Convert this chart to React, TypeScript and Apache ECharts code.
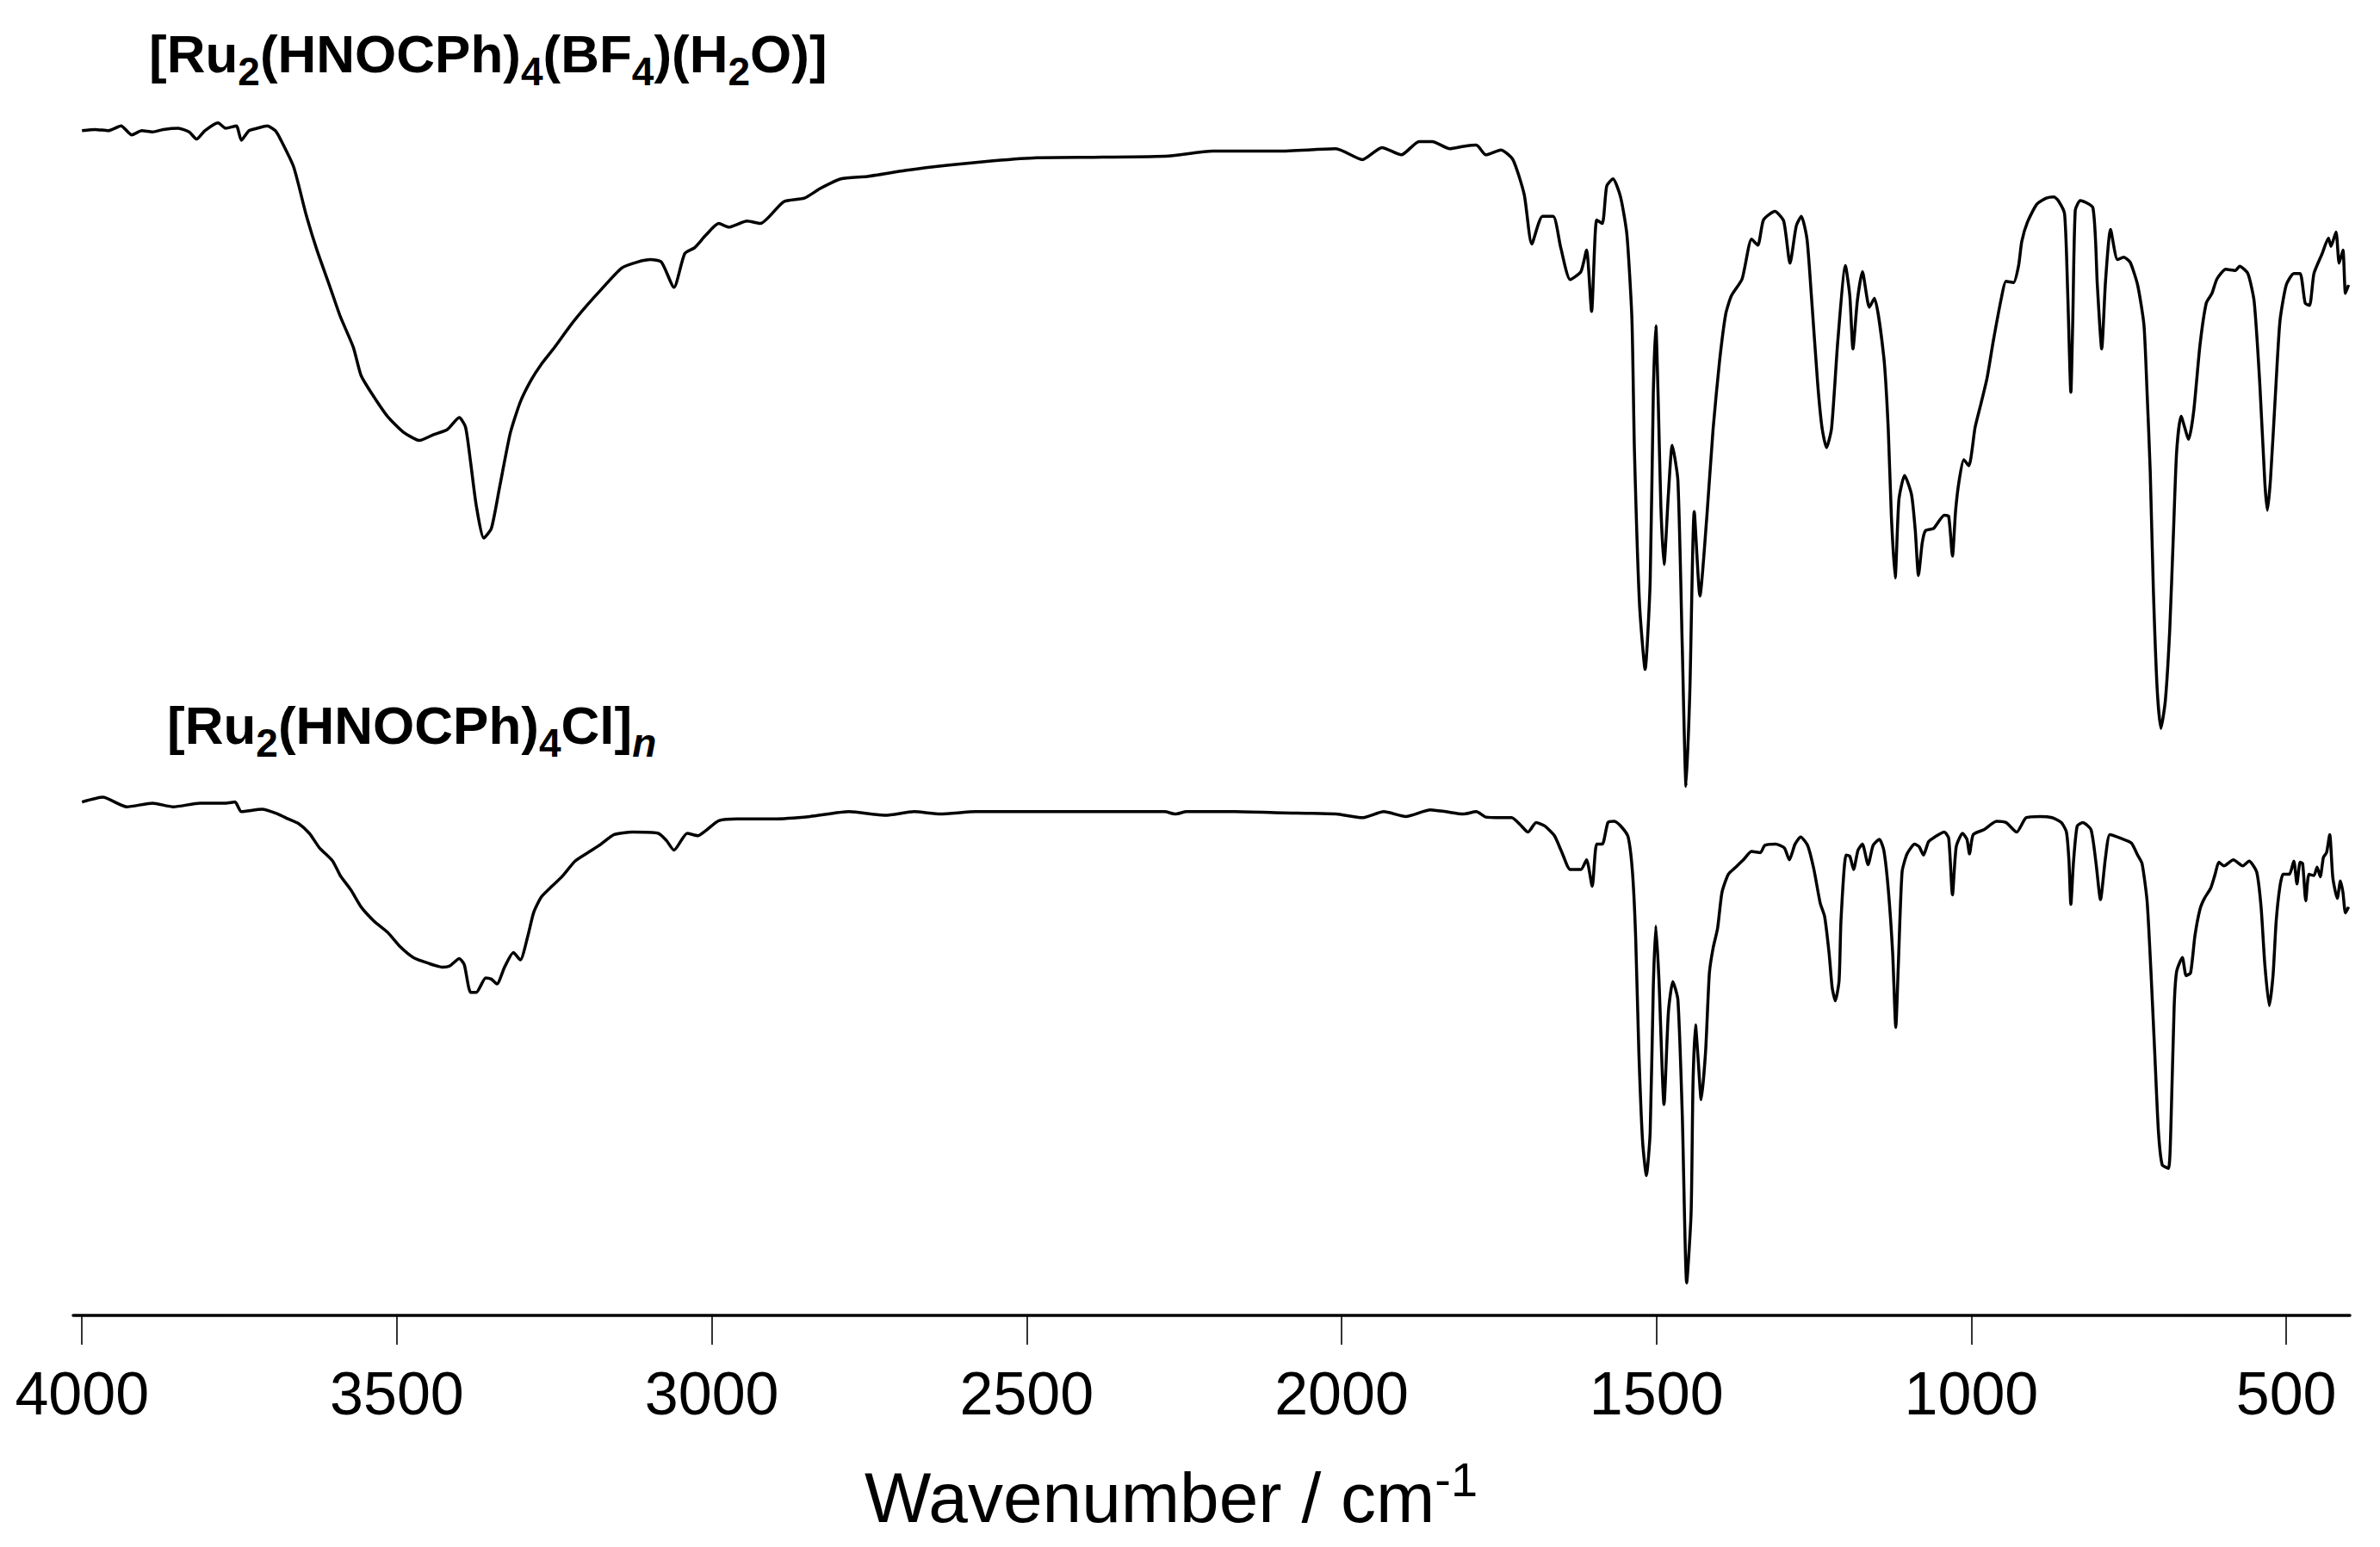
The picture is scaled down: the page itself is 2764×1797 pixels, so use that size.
import React, { useEffect, useRef } from "react";
import * as echarts from "echarts";

// x-axis tick labels (cm-1)
const tickValues = [4000, 3500, 3000, 2500, 2000, 1500, 1000, 500];

const axisTitleText = "{m|Wavenumber / cm}{s|-1}";

// compound labels (rich text, subscripts)
const topLabelText = "{b|[Ru}{s|2}{b|(HNOCPh)}{s|4}{b|(BF}{s|4}{b|)(H}{s|2}{b|O)]}";
const bottomLabelText = "{b|[Ru}{s|2}{b|(HNOCPh)}{s|4}{b|Cl]}{n|n}";

// Upper spectrum: [Ru2(HNOCPh)4(BF4)(H2O)]  (wavenumber, relative transmittance on offset scale)
const topWn = [
  4000, 3979, 3958, 3938, 3921, 3905, 3888, 3871, 3847, 3830, 3818, 3805, 3784, 3772, 3755, 3747, 3735, 3722, 3706, 3693, 3685,
  3664, 3644, 3627, 3606, 3590, 3569, 3557, 3540, 3515, 3490, 3464, 3441, 3420, 3401, 3391, 3383, 3374, 3362, 3350, 3337,
  3320, 3304, 3287, 3271, 3250, 3225, 3200, 3176, 3143, 3118, 3097, 3080, 3060, 3043, 3027, 3010, 2989, 2973, 2944, 2923,
  2886, 2853, 2828, 2795, 2753, 2693, 2623, 2553, 2484, 2379, 2275, 2205, 2100, 2009, 1967, 1936, 1905, 1877, 1856, 1828,
  1806, 1786, 1771, 1747, 1728, 1710, 1698, 1681, 1664, 1652, 1637, 1620, 1611, 1603, 1595, 1586, 1579, 1569, 1557, 1547,
  1539, 1535, 1527, 1518, 1510, 1505, 1501, 1497, 1493, 1488, 1481, 1475, 1466, 1459, 1453, 1447, 1440, 1431, 1420, 1410,
  1400, 1390, 1381, 1364, 1349, 1339, 1330, 1312, 1298, 1288, 1278, 1270, 1261, 1254, 1244, 1237, 1230, 1222, 1212, 1200,
  1193, 1188, 1181, 1173, 1162, 1154, 1139, 1132, 1127, 1121, 1115, 1106, 1095, 1089, 1084, 1078, 1073, 1060, 1043, 1036,
  1030, 1025, 1019, 1012, 1004, 994, 985, 975, 965, 952, 945, 933, 925, 920, 911, 896, 881, 869, 862, 852,
  847, 842, 839, 835, 827, 807, 800, 793, 787, 779, 768, 758, 748, 736, 726, 721, 716, 711, 705, 699,
  692, 685, 679, 674, 667, 655, 647, 637, 627, 618, 610, 596, 581, 574, 561, 551, 542, 534, 530, 525,
  517, 510, 500, 488, 478, 470, 463, 456, 443, 433, 429, 421, 416, 410, 406, 401,
];
const topT = [
  98.3, 98.4, 98.3, 98.7, 97.95, 98.3, 98.2, 98.4, 98.5, 98.2, 97.6, 98.3, 98.95, 98.5, 98.7, 97.5, 98.3, 98.5, 98.7, 98.3, 97.6,
  95.3, 91.3, 88.4, 85.3, 82.9, 80.3, 78.0, 76.5, 74.6, 73.3, 72.6, 73.1, 73.5, 74.5, 73.7, 70.8, 67.2, 64.5, 65.3, 68.7,
  73.2, 75.8, 77.6, 78.9, 80.3, 82.1, 83.7, 85.1, 86.9, 87.4, 87.6, 87.4, 85.3, 88.1, 88.6, 89.6, 90.6, 90.3, 90.8, 90.6,
  92.4, 92.7, 93.5, 94.3, 94.5, 95.0, 95.45, 95.8, 96.05, 96.1, 96.2, 96.6, 96.6, 96.8, 95.9, 96.9, 96.3, 97.4, 97.4, 96.8,
  97.0, 97.1, 96.3, 96.7, 95.9, 93.0, 88.9, 91.2, 91.2, 88.6, 85.95, 86.6, 88.4, 83.3, 90.9, 90.6, 93.7, 94.3, 92.8, 89.7,
  82.7, 71.8, 59.1, 53.6, 60.9, 76.55, 82.1, 75.5, 67.1, 62.3, 68.2, 72.2, 69.3, 55.4, 43.9, 51.8, 66.7, 59.7, 66.3, 73.6,
  79.1, 83.1, 84.6, 86.0, 89.3, 88.8, 90.9, 91.6, 90.8, 87.3, 90.4, 91.2, 89.3, 84.6, 77.3, 73.6, 72.0, 73.6, 80.9, 87.1,
  84.6, 80.2, 84.2, 86.6, 83.65, 84.4, 79.5, 73.6, 66.3, 61.2, 67.7, 69.7, 68.1, 65.1, 61.4, 64.1, 65.1, 65.3, 66.4, 66.3,
  63.0, 66.8, 69.4, 71.0, 70.5, 73.7, 75.6, 77.8, 80.9, 84.5, 85.8, 85.7, 87.1, 89.1, 90.7, 92.2, 92.7, 92.8, 92.5, 91.4,
  84.8, 76.6, 82.5, 91.7, 92.5, 91.9, 85.5, 80.2, 85.8, 90.1, 87.6, 87.8, 87.4, 85.5, 82.2, 76.6, 70.05, 60.2, 52.0, 48.7,
  51.0, 56.9, 65.1, 71.7, 74.6, 72.7, 75.0, 80.5, 84.0, 84.8, 86.0, 86.8, 86.7, 87.05, 86.45, 84.15, 77.3, 69.1, 66.8, 69.4,
  76.6, 82.5, 85.5, 86.45, 86.45, 84.0, 83.8, 86.45, 88.1, 89.4, 88.7, 89.9, 87.3, 88.4, 84.8, 85.5,
];

// Lower spectrum: [Ru2(HNOCPh)4Cl]n
const bottomWn = [
  4000, 3967, 3929, 3888, 3855, 3813, 3772, 3757, 3747, 3714, 3689, 3673, 3656, 3639, 3623, 3602, 3590, 3573, 3557, 3536,
  3515, 3495, 3474, 3449, 3428, 3416, 3401, 3393, 3383, 3374, 3359, 3350, 3341, 3329, 3315, 3304, 3292, 3283, 3271, 3254,
  3238, 3217, 3192, 3176, 3155, 3126, 3085, 3072, 3060, 3039, 3022, 3010, 2989, 2960, 2902, 2844, 2782, 2724, 2679, 2637,
  2581, 2484, 2379, 2281, 2264, 2246, 2170, 2093, 2009, 1967, 1933, 1898, 1859, 1835, 1807, 1786, 1771, 1747, 1730, 1716,
  1704, 1691, 1677, 1662, 1650, 1637, 1620, 1611, 1602, 1595, 1586, 1577, 1567, 1555, 1545, 1538, 1533, 1528, 1522, 1516,
  1510, 1505, 1501, 1496, 1488, 1481, 1474, 1466, 1459, 1452, 1445, 1442, 1438, 1434, 1429, 1422, 1416, 1410, 1403, 1396,
  1386, 1376, 1362, 1349, 1335, 1328, 1311, 1297, 1289, 1280, 1271, 1260, 1250, 1240, 1233, 1226, 1221, 1216, 1210, 1207,
  1199, 1193, 1187, 1180, 1173, 1164, 1156, 1146, 1139, 1132, 1125, 1120, 1116, 1110, 1102, 1090, 1083, 1076, 1068, 1058,
  1043, 1036, 1030, 1024, 1014, 1007, 1003, 997, 980, 960, 945, 928, 913, 891, 872, 857, 849, 845, 842, 838,
  832, 823, 810, 802, 795, 787, 780, 763, 746, 736, 729, 721, 715, 709, 703, 697, 687, 683, 678, 674,
  665, 659, 652, 645, 637, 630, 620, 613, 607, 599, 584, 569, 559, 547, 540, 534, 527, 521, 516, 510,
  505, 495, 488, 483, 478, 474, 469, 464, 456, 451, 446, 441, 436, 431, 426, 419, 414, 410, 406, 401,
];
const bottomT = [
  42.6, 43.0, 42.2, 42.5, 42.2, 42.5, 42.5, 42.6, 41.8, 42.0, 41.6, 41.2, 40.8, 40.0, 38.8, 37.7, 36.5, 35.3, 33.9, 32.7,
  31.8, 30.6, 29.7, 29.2, 28.9, 29.0, 29.6, 29.1, 26.8, 26.8, 28.0, 27.9, 27.5, 28.9, 30.1, 29.5, 31.5, 33.4, 34.7, 35.6,
  36.4, 37.7, 38.55, 39.1, 39.9, 40.1, 40.0, 39.4, 38.6, 40.0, 39.8, 40.2, 41.05, 41.2, 41.2, 41.4, 41.8, 41.5, 41.8, 41.6,
  41.8, 41.8, 41.8, 41.8, 41.6, 41.8, 41.8, 41.7, 41.6, 41.3, 41.8, 41.4, 41.95, 41.8, 41.6, 41.8, 41.35, 41.3, 41.3, 40.7,
  40.1, 40.9, 40.6, 39.8, 38.4, 37.0, 37.0, 37.8, 35.6, 39.1, 39.1, 40.9, 41.0, 40.5, 39.7, 36.7, 31.3, 21.9, 14.4, 11.6,
  15.2, 27.3, 32.3, 27.8, 17.5, 25.2, 27.7, 26.2, 16.6, 2.7, 8.5, 19.2, 24.1, 21.4, 17.9, 21.9, 28.4, 30.5, 32.1, 35.1,
  36.6, 37.1, 37.8, 38.5, 38.4, 39.0, 39.1, 38.8, 37.8, 39.1, 39.7, 39.0, 37.0, 34.2, 33.1, 30.1, 27.2, 26.1, 27.8, 32.8,
  38.2, 38.1, 37.0, 38.6, 39.1, 37.4, 39.0, 39.5, 38.6, 35.4, 30.1, 23.9, 29.0, 36.8, 38.3, 39.1, 38.9, 38.2, 39.3, 39.7,
  40.1, 39.6, 34.9, 38.9, 40.0, 39.5, 38.3, 39.9, 40.3, 41.0, 40.9, 40.1, 41.3, 41.4, 41.3, 40.9, 40.1, 37.7, 34.1, 37.5,
  40.6, 40.9, 40.3, 37.5, 34.5, 38.0, 39.9, 39.6, 39.2, 38.2, 37.5, 34.4, 28.7, 22.0, 15.3, 12.5, 12.2, 16.0, 25.6, 28.55,
  29.7, 28.2, 28.4, 31.5, 33.7, 34.6, 35.45, 36.6, 37.6, 37.3, 37.8, 37.3, 37.7, 36.8, 33.9, 29.1, 25.7, 28.2, 32.7, 35.6,
  36.6, 36.6, 37.7, 35.8, 37.6, 37.5, 34.4, 36.6, 36.5, 37.2, 36.4, 38.0, 38.4, 39.9, 36.3, 34.6, 36.05, 35.1, 33.4, 33.9,
];

const FONT = '"Liberation Sans", Arial, Helvetica, sans-serif';

function zip(w: number[], t: number[]): number[][] {
  return w.map((x, i) => [x, t[i]]);
}

export default function App() {
  const ref = useRef<HTMLDivElement>(null);

  useEffect(() => {
    if (!ref.current) return;
    const chart = echarts.init(ref.current, null, { renderer: "svg" });

    const labelRich = {
      b: { fontSize: 62, fontWeight: "bold", fontFamily: FONT, lineHeight: 62, verticalAlign: "top", color: "#000" },
      s: { fontSize: 46, fontWeight: "bold", fontFamily: FONT, lineHeight: 75, verticalAlign: "bottom", color: "#000" },
      n: {
        fontSize: 46,
        fontWeight: "bold",
        fontStyle: "italic",
        fontFamily: FONT,
        lineHeight: 75,
        verticalAlign: "bottom",
        color: "#000",
      },
    };

    const titleRich = {
      m: { fontSize: 82, fontFamily: FONT, lineHeight: 82, verticalAlign: "bottom", color: "#000" },
      s: { fontSize: 56, fontFamily: FONT, lineHeight: 90, verticalAlign: "top", color: "#000" },
    };

    chart.setOption({
      animation: false,
      backgroundColor: "#ffffff",
      grid: { left: 85, right: 35, top: 128, bottom: 269, containLabel: false, outerBoundsMode: "none" },
      xAxis: {
        type: "value",
        min: 399,
        max: 4014,
        inverse: true,
        axisLine: { show: true, lineStyle: { color: "#000", width: 3.5 } },
        axisTick: {
          show: true,
          inside: false,
          length: 34,
          customValues: tickValues,
          lineStyle: { color: "#000", width: 1.6 },
        },
        axisLabel: {
          show: true,
          customValues: tickValues,
          formatter: (v: number) => String(v),
          fontSize: 70,
          color: "#000",
          fontFamily: FONT,
          margin: 56,
        },
        splitLine: { show: false },
      },
      yAxis: { type: "value", min: 0, max: 100, show: false },
      series: [
        {
          name: "[Ru2(HNOCPh)4(BF4)(H2O)]",
          type: "line",
          data: zip(topWn, topT),
          showSymbol: false,
          symbol: "none",
          smooth: 0.2,
          lineStyle: { color: "#000", width: 3.5 },
        },
        {
          name: "[Ru2(HNOCPh)4Cl]n",
          type: "line",
          data: zip(bottomWn, bottomT),
          showSymbol: false,
          symbol: "none",
          smooth: 0.2,
          lineStyle: { color: "#000", width: 3.5 },
        },
      ],
      graphic: [
        {
          type: "text",
          x: 173,
          y: 31,
          style: {
            text: topLabelText,
            rich: labelRich,
            align: "left",
            verticalAlign: "top",
            textAlign: "left",
            textVerticalAlign: "top",
            fill: "#000",
          },
        },
        {
          type: "text",
          x: 194,
          y: 811,
          style: {
            text: bottomLabelText,
            rich: labelRich,
            align: "left",
            verticalAlign: "top",
            textAlign: "left",
            textVerticalAlign: "top",
            fill: "#000",
          },
        },
        {
          type: "text",
          x: 1004,
          y: 1690,
          style: {
            text: axisTitleText,
            rich: titleRich,
            align: "left",
            verticalAlign: "top",
            textAlign: "left",
            textVerticalAlign: "top",
            fill: "#000",
          },
        },
      ],
    });

    return () => {
      chart.dispose();
    };
  }, []);

  return (
    <div
      ref={ref}
      style={{ position: "absolute", left: 0, top: 0, width: 2764, height: 1797, background: "#fff" }}
    />
  );
}
